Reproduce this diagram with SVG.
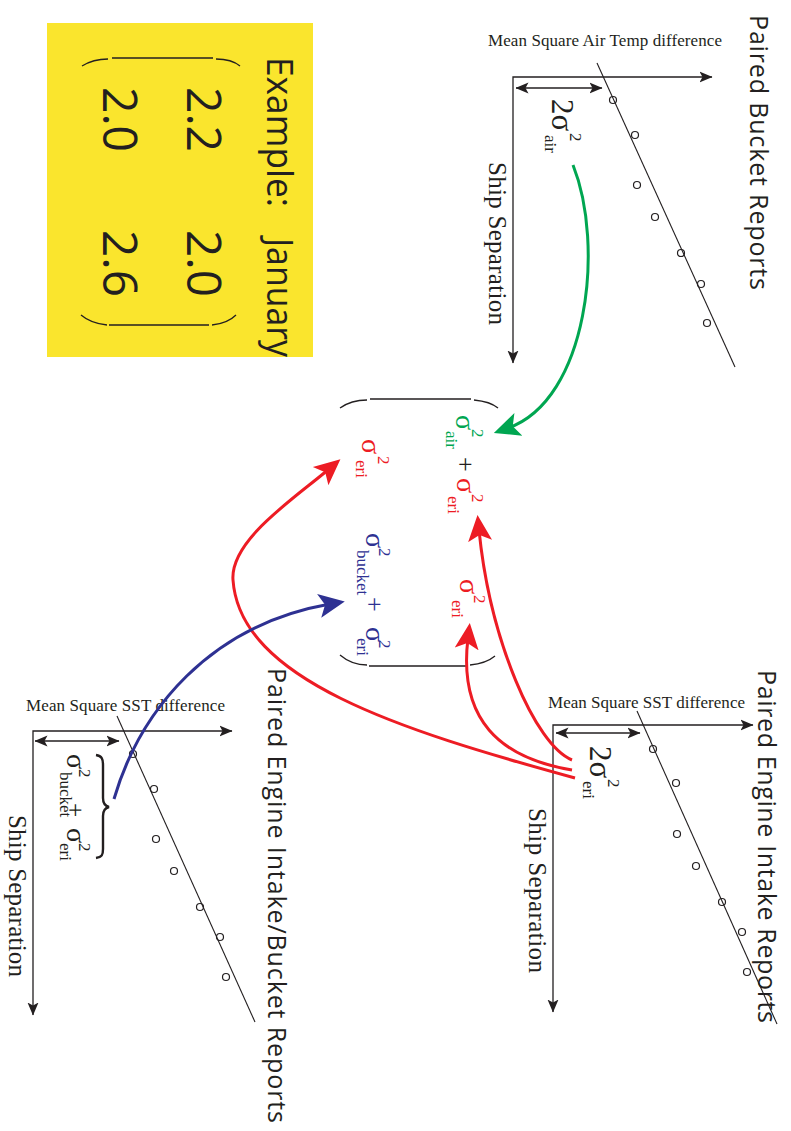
<svg xmlns="http://www.w3.org/2000/svg" width="791" height="1131" viewBox="0 0 791 1131">
<style>
.ax{stroke:#231f20;stroke-width:1.3;fill:none}
.fit{stroke:#231f20;stroke-width:1.1;fill:none}
.pt{stroke:#231f20;stroke-width:1.2;fill:none}
.title{font-family:"Open Sans","Liberation Sans",sans-serif;font-size:25px;fill:#231f20}
.ex{font-family:"Open Sans","Liberation Sans",sans-serif;font-size:36px;fill:#231f20}
.num{font-family:"Open Sans","Liberation Sans",sans-serif;font-size:48px;fill:#231f20}
.ms{font-family:"Liberation Serif",serif;font-size:17px;fill:#231f20}
.ship{font-family:"Liberation Serif",serif;font-size:25px;fill:#231f20}
.m{font-family:"Liberation Serif",serif}
.big{font-size:28px}
.sm{font-size:17px}
.g{fill:#00a651}.r{fill:#ed1c24}.b{fill:#2e3192}.k{fill:#231f20}
.con{fill:none;stroke-width:3}
.brk{fill:none;stroke:#231f20;stroke-width:1.3}
</style>
<defs>
<marker id="ak" markerUnits="userSpaceOnUse" viewBox="0 -6 13 12" markerWidth="13" markerHeight="12" refX="12.5" refY="0" orient="auto-start-reverse"><path d="M13,0 L0,-5.5 L3,0 L0,5.5Z" fill="#231f20"/></marker>
<marker id="ag" markerUnits="userSpaceOnUse" viewBox="0 -13 26 26" markerWidth="26" markerHeight="26" refX="11" refY="0" orient="auto"><path d="M26,0 L0,-12 L6,0 L0,12Z" fill="#00a651"/></marker>
<marker id="ar" markerUnits="userSpaceOnUse" viewBox="0 -13 26 26" markerWidth="26" markerHeight="26" refX="11" refY="0" orient="auto"><path d="M26,0 L0,-12 L6,0 L0,12Z" fill="#ed1c24"/></marker>
<marker id="ab" markerUnits="userSpaceOnUse" viewBox="0 -13 26 26" markerWidth="26" markerHeight="26" refX="11" refY="0" orient="auto"><path d="M26,0 L0,-12 L6,0 L0,12Z" fill="#2e3192"/></marker>
</defs>

<g id="example-box">
<rect x="47" y="23" width="266" height="334" fill="#fae52d"/>
<text class="ex" transform="translate(267,57) rotate(90)" textLength="150" lengthAdjust="spacingAndGlyphs">Example:</text>
<text class="ex" transform="translate(267,238) rotate(90)" textLength="119" lengthAdjust="spacingAndGlyphs">January</text>
<path class="brk" d="M82,66 C90,61 98,59 108,59 M112,58 L213,58 M216,59 C226,59 234,61 240,66"/>
<path class="brk" d="M81,315 C88,321 97,324 107,325 M109,325 L209,325 M212,325 C222,324 230,321 236,315"/>
<text class="num" transform="translate(187,87) rotate(90)" textLength="65" lengthAdjust="spacingAndGlyphs">2.2</text>
<text class="num" transform="translate(187,230) rotate(90)" textLength="67" lengthAdjust="spacingAndGlyphs">2.0</text>
<text class="num" transform="translate(103,87) rotate(90)" textLength="65" lengthAdjust="spacingAndGlyphs">2.0</text>
<text class="num" transform="translate(103,230) rotate(90)" textLength="67" lengthAdjust="spacingAndGlyphs">2.6</text>
</g>

<g id="panel-bucket">
<text class="title" transform="translate(750,15) rotate(90)" textLength="275" lengthAdjust="spacing">Paired Bucket Reports</text>
<text class="ms" x="488" y="46" textLength="234" lengthAdjust="spacing">Mean Square Air Temp difference</text>
<path class="ax" d="M513,363 L513,77 L712,77" marker-start="url(#ak)" marker-end="url(#ak)"/>
<path class="ax" d="M516,88 L602,88" marker-start="url(#ak)" marker-end="url(#ak)"/>
<line class="fit" x1="597" y1="63" x2="735" y2="367"/>
<g class="pt"><circle cx="613" cy="100" r="3.5"/><circle cx="635" cy="135" r="3.5"/><circle cx="637" cy="185" r="3.5"/><circle cx="655" cy="217" r="3.5"/><circle cx="681" cy="253" r="3.5"/><circle cx="701" cy="284" r="3.5"/><circle cx="707" cy="323" r="3.5"/></g>
<text class="ship" transform="translate(489,162) rotate(90)" textLength="163" lengthAdjust="spacing">Ship Separation</text>
<g class="m k">
<text font-size="31" transform="translate(552,99) rotate(90)">2σ</text>
<text font-size="17" transform="translate(570,133) rotate(90)">2</text>
<text font-size="17" transform="translate(545,135) rotate(90)">air</text>
</g>
</g>

<g id="panel-eri">
<text class="title" transform="translate(758,670) rotate(90)" textLength="353" lengthAdjust="spacing">Paired Engine Intake Reports</text>
<text class="ms" x="548" y="708" textLength="197" lengthAdjust="spacing">Mean Square SST difference</text>
<path class="ax" d="M553,1012 L553,725 L753,725" marker-start="url(#ak)" marker-end="url(#ak)"/>
<path class="ax" d="M556,733 L640,733" marker-start="url(#ak)" marker-end="url(#ak)"/>
<line class="fit" x1="637" y1="711" x2="777" y2="1024"/>
<g class="pt"><circle cx="653" cy="749" r="3.5"/><circle cx="676" cy="783" r="3.5"/><circle cx="677" cy="834" r="3.5"/><circle cx="696" cy="866" r="3.5"/><circle cx="722" cy="902" r="3.5"/><circle cx="742" cy="932" r="3.5"/><circle cx="747" cy="972" r="3.5"/></g>
<text class="ship" transform="translate(529,808) rotate(90)" textLength="165" lengthAdjust="spacing">Ship Separation</text>
<g class="m k">
<text font-size="31" transform="translate(590,746) rotate(90)">2σ</text>
<text font-size="17" transform="translate(608,779) rotate(90)">2</text>
<text font-size="17" transform="translate(583,781) rotate(90)">eri</text>
</g>
</g>

<g id="panel-eri-bucket">
<text class="title" transform="translate(268,668) rotate(90)" textLength="455" lengthAdjust="spacing">Paired Engine Intake/Bucket Reports</text>
<text class="ms" x="26" y="711" textLength="199" lengthAdjust="spacing">Mean Square SST difference</text>
<path class="ax" d="M33,1015 L33,731 L232,731" marker-start="url(#ak)" marker-end="url(#ak)"/>
<path class="ax" d="M35,741 L119,741" marker-start="url(#ak)" marker-end="url(#ak)"/>
<line class="fit" x1="117" y1="716" x2="255" y2="1022"/>
<g class="pt"><circle cx="133" cy="754" r="3.5"/><circle cx="154" cy="789" r="3.5"/><circle cx="156" cy="839" r="3.5"/><circle cx="174" cy="871" r="3.5"/><circle cx="200" cy="907" r="3.5"/><circle cx="220" cy="937" r="3.5"/><circle cx="226" cy="977" r="3.5"/></g>
<text class="ship" transform="translate(9,815) rotate(90)" textLength="162" lengthAdjust="spacing">Ship Separation</text>
<path d="M96,755 C102,756 103,759 103,765 L103,798 C103,803 105,806 109,807 C105,808 103,811 103,816 L103,849 C103,855 102,857 96,858" fill="none" stroke="#231f20" stroke-width="2.4"/>
<g class="m k">
<text class="big" transform="translate(67,754) rotate(90)">σ</text>
<text class="sm" transform="translate(79,769) rotate(90)">2</text>
<text class="sm" transform="translate(60,772) rotate(90)">bucket</text>
<text font-size="25" transform="translate(67,803) rotate(90)">+</text>
<text class="big" transform="translate(67,828) rotate(90)">σ</text>
<text class="sm" transform="translate(79,843) rotate(90)">2</text>
<text class="sm" transform="translate(60,843) rotate(90)">eri</text>
</g>
</g>

<g id="matrix">
<path class="brk" d="M340,408 C347,403 356,400 367,400 M370,399 L471,399 M474,400 C484,401 492,403 498,408"/>
<path class="brk" d="M340,655 C347,661 357,665 367,665 M369,666 L467,666 M470,665 C481,664 489,661 495,656"/>
<g class="m">
<text class="big g" transform="translate(456,415) rotate(90)">σ</text>
<text class="sm g" transform="translate(472,429) rotate(90)">2</text>
<text class="sm g" transform="translate(446,431) rotate(90)">air</text>
<text class="k" font-size="26" transform="translate(457,457) rotate(90)">+</text>
<text class="big r" transform="translate(457,478) rotate(90)">σ</text>
<text class="sm r" transform="translate(472,494) rotate(90)">2</text>
<text class="sm r" transform="translate(448,496) rotate(90)">eri</text>

<text class="big r" transform="translate(362,439) rotate(90)">σ</text>
<text class="sm r" transform="translate(378,456) rotate(90)">2</text>
<text class="sm r" transform="translate(356,460) rotate(90)">eri</text>

<text class="big r" transform="translate(460,579) rotate(90)">σ</text>
<text class="sm r" transform="translate(474,595) rotate(90)">2</text>
<text class="sm r" transform="translate(452,600) rotate(90)">eri</text>

<text class="big b" transform="translate(366,533) rotate(90)">σ</text>
<text class="sm b" transform="translate(379,548) rotate(90)">2</text>
<text class="sm b" transform="translate(357,550) rotate(90)">bucket</text>
<text class="b" font-size="26" transform="translate(366,597) rotate(90)">+</text>
<text class="big b" transform="translate(366,627) rotate(90)">σ</text>
<text class="sm b" transform="translate(379,640) rotate(90)">2</text>
<text class="sm b" transform="translate(357,638) rotate(90)">eri</text>
</g>
</g>

<g id="connectors">
<path class="con" stroke="#00a651" d="M573,165 C605,245 588,400 508,428" marker-end="url(#ag)"/>
<path class="con" stroke="#ed1c24" d="M572,760 C535,745 490,640 479,530" marker-end="url(#ar)"/>
<path class="con" stroke="#ed1c24" d="M572,770 C500,758 458,720 468,638" marker-end="url(#ar)"/>
<path class="con" stroke="#ed1c24" d="M575,778 C400,730 240,680 233,580 C230,540 295,498 329,469" marker-end="url(#ar)"/>
<path class="con" stroke="#2e3192" d="M114,799 C140,710 210,625 330,604" marker-end="url(#ab)"/>
</g>
</svg>
